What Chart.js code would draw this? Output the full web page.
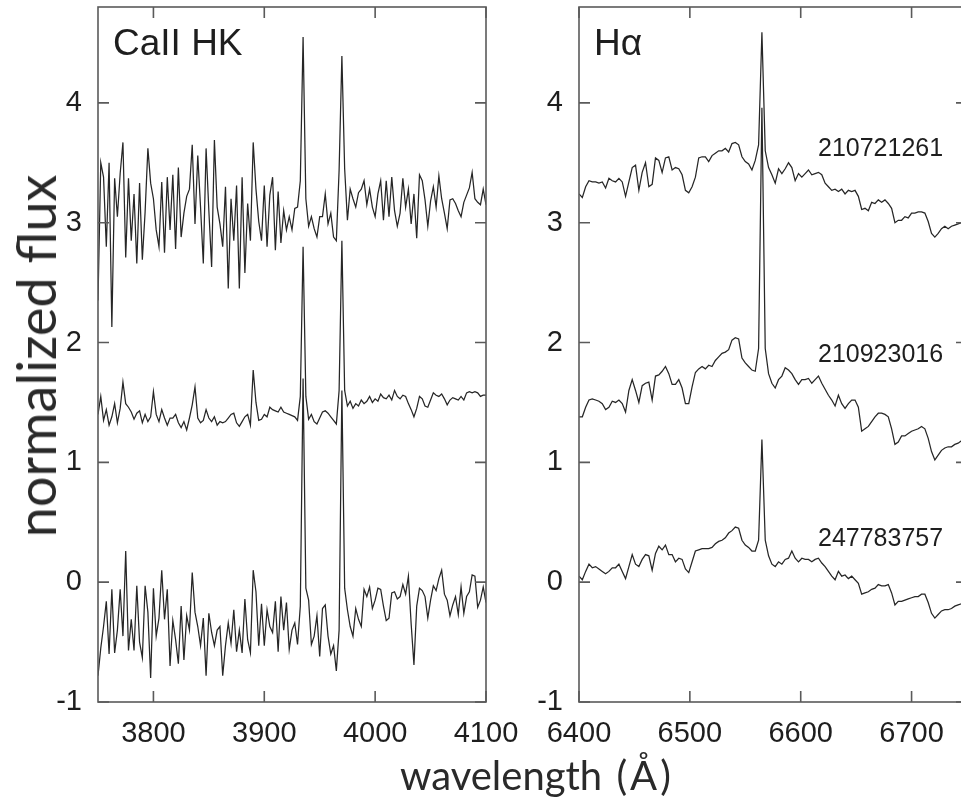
<!DOCTYPE html>
<html>
<head>
<meta charset="utf-8">
<script src="https://cdn.jsdelivr.net/npm/chart.js@4.4.1/dist/chart.umd.min.js"></script>
<style>
  html, body { margin:0; padding:0; background:#fff; }
  body { width:961px; height:804px; overflow:hidden; position:relative; }
  canvas { position:absolute; top:0; }
  .t { position:absolute; white-space:nowrap; color:#1e1e1e; line-height:1; }
  .sans { font-family:"Liberation Sans", Arial, sans-serif; }
</style>
</head>
<body>
<canvas id="c1" width="521" height="804" style="left:0px"></canvas>
<canvas id="c2" width="460" height="804" style="left:520px"></canvas>
<div class="t sans" style="left:113px;top:24px;font-size:37px;">CaII HK</div>
<div class="t sans" style="left:594px;top:24px;font-size:37px;">Hα</div>
<div class="t sans" style="left:818px;top:135px;font-size:25px;">210721261</div>
<div class="t sans" style="left:818px;top:341px;font-size:25px;">210923016</div>
<div class="t sans" style="left:818px;top:525px;font-size:25px;">247783757</div>
<div class="t" style="left:36px;top:356px;font-size:54px;font-family:Lato,'Noto Sans',sans-serif;transform:translate(-50%,-50%) rotate(-90deg);color:#2a2a2a;">normalized flux</div>
<div class="t" style="left:400px;top:755px;font-size:40px;font-family:Lato,'Noto Sans',sans-serif;color:#2a2a2a;word-spacing:4px;">wavelength <span style="letter-spacing:3px;">(Å)</span></div>
<script>
// ---- wavelength grids (Å) ----
const caWave = [
3750,3752.5,3755,3757.5,3760,3762.5,3765,3767.5,3770,3772.5,
3775,3777.5,3780,3782.5,3785,3787.5,3790,3792.5,3795,3797.5,
3800,3802.5,3805,3807.5,3810,3812.5,3815,3817.5,3820,3822.5,
3825,3827.5,3830,3832.5,3835,3837.5,3840,3842.5,3845,3847.5,
3850,3852.5,3855,3857.5,3860,3862.5,3865,3867.5,3870,3872.5,
3875,3877.5,3880,3882.5,3885,3887.5,3890,3892.5,3895,3897.5,
3900,3902.5,3905,3907.5,3910,3912.5,3915,3917.5,3920,3922.5,
3925,3927.5,3930,3932.5,3935,3937.5,3940,3942.5,3945,3947.5,
3950,3952.5,3955,3957.5,3960,3962.5,3965,3967.5,3970,3972.5,
3975,3977.5,3980,3982.5,3985,3987.5,3990,3992.5,3995,3997.5,
4000,4002.5,4005,4007.5,4010,4012.5,4015,4017.5,4020,4022.5,
4025,4027.5,4030,4032.5,4035,4037.5,4040,4042.5,4045,4047.5,
4050,4052.5,4055,4057.5,4060,4062.5,4065,4067.5,4070,4072.5,
4075,4077.5,4080,4082.5,4085,4087.5,4090,4092.5,4095,4097.5,
4100];
const haWave = [
6400,6403,6406,6409,6412,6415,6418,6421,6424,6427,
6430,6433,6436,6439,6442,6445,6448,6451,6454,6457,
6460,6463,6466,6469,6472,6475,6478,6481,6484,6487,
6490,6493,6496,6499,6502,6505,6508,6511,6514,6517,
6520,6523,6526,6529,6532,6535,6538,6541,6544,6547,
6550,6553,6556,6559,6562,6565,6568,6571,6574,6577,
6580,6583,6586,6589,6592,6595,6598,6601,6604,6607,
6610,6613,6616,6619,6622,6625,6628,6631,6634,6637,
6640,6643,6646,6649,6652,6655,6658,6661,6664,6667,
6670,6673,6676,6679,6682,6685,6688,6691,6694,6697,
6700,6703,6706,6709,6712,6715,6718,6721,6724,6727,
6730,6733,6736,6739,6742,6745];

// ---- CaII HK normalized flux (offset spectra) ----
const caTop = [
2.35,3.50,3.38,2.80,3.50,2.13,3.37,3.05,3.41,3.67,
2.71,3.37,2.85,3.24,2.66,3.33,2.69,3.09,3.62,3.33,
3.20,2.94,2.80,3.34,2.75,3.38,2.94,3.40,2.78,3.46,
2.88,3.08,3.22,3.28,3.65,2.99,3.56,3.13,2.66,3.62,
3.10,2.63,3.69,3.13,2.99,2.80,3.30,2.45,3.20,2.85,
3.31,2.45,3.38,2.58,3.16,2.85,3.67,3.28,3.01,2.85,
3.31,2.80,3.23,3.38,2.77,3.26,2.83,3.10,2.94,3.05,
2.94,3.12,3.13,3.35,4.55,3.20,2.97,3.05,2.95,2.88,
3.05,3.05,3.24,2.99,3.08,2.88,2.85,3.44,4.39,3.45,
3.02,3.28,3.20,3.13,3.25,3.28,3.35,3.15,3.28,3.13,
3.05,3.24,3.35,3.02,3.35,3.05,3.38,3.10,2.97,3.08,
3.37,3.13,3.28,2.99,3.24,2.87,3.40,3.35,3.19,2.97,
3.18,3.30,3.13,3.39,3.20,3.08,2.95,3.19,3.20,3.16,
3.10,3.05,3.17,3.23,3.29,3.42,3.20,3.17,3.15,3.28,
3.15];
const caMid = [
1.40,1.55,1.35,1.44,1.31,1.38,1.49,1.33,1.45,1.67,
1.49,1.46,1.42,1.36,1.41,1.43,1.33,1.40,1.34,1.38,
1.59,1.40,1.34,1.44,1.37,1.31,1.37,1.37,1.40,1.33,
1.29,1.34,1.27,1.37,1.48,1.63,1.37,1.33,1.35,1.44,
1.37,1.34,1.38,1.31,1.34,1.33,1.34,1.37,1.40,1.41,
1.33,1.30,1.34,1.38,1.40,1.31,1.77,1.50,1.35,1.36,
1.40,1.38,1.46,1.44,1.43,1.42,1.46,1.42,1.41,1.40,
1.39,1.38,1.35,1.55,2.80,1.55,1.36,1.40,1.34,1.32,
1.37,1.42,1.43,1.41,1.38,1.35,1.32,1.60,2.85,1.60,
1.47,1.51,1.45,1.49,1.47,1.52,1.49,1.51,1.55,1.50,
1.53,1.51,1.57,1.54,1.53,1.56,1.52,1.60,1.55,1.53,
1.56,1.55,1.49,1.44,1.38,1.45,1.55,1.53,1.47,1.46,
1.52,1.58,1.56,1.55,1.57,1.53,1.48,1.52,1.54,1.53,
1.52,1.55,1.52,1.58,1.59,1.58,1.59,1.58,1.55,1.56,
1.56];
const caBot = [
-0.78,-0.55,-0.37,-0.16,-0.60,-0.06,-0.59,-0.40,-0.06,-0.45,
0.26,-0.57,-0.31,-0.57,-0.03,-0.50,-0.63,-0.03,-0.25,-0.80,
-0.05,-0.45,-0.30,0.10,-0.31,-0.06,-0.70,-0.32,-0.48,-0.68,
-0.20,-0.65,-0.28,-0.40,0.08,-0.25,-0.37,-0.53,-0.30,-0.78,
-0.26,-0.42,-0.53,-0.40,-0.37,-0.78,-0.53,-0.34,-0.51,-0.23,
-0.58,-0.40,-0.59,-0.14,-0.48,-0.59,0.10,-0.08,-0.53,-0.18,
-0.53,-0.23,-0.37,-0.42,-0.16,-0.58,-0.12,-0.40,-0.17,-0.56,
-0.40,-0.34,-0.52,-0.20,1.70,-0.05,-0.15,-0.52,-0.45,-0.28,
-0.62,-0.22,-0.19,-0.45,-0.60,-0.53,-0.74,-0.40,1.60,-0.05,
-0.23,-0.37,-0.45,-0.22,-0.31,-0.37,-0.06,-0.12,-0.04,-0.22,
-0.15,-0.05,-0.06,-0.20,-0.32,-0.30,-0.09,-0.08,-0.14,-0.12,
-0.02,-0.10,0.05,-0.35,-0.69,-0.20,-0.05,-0.07,-0.12,-0.30,
-0.15,-0.03,-0.07,0.03,0.10,-0.10,-0.15,-0.28,-0.19,-0.12,
-0.27,-0.04,-0.26,-0.12,-0.08,0.06,0.05,-0.21,-0.15,-0.04,
-0.17];

// ---- H-alpha normalized flux (offset spectra) ----
const haTop = [
3.24,3.21,3.30,3.35,3.34,3.34,3.33,3.34,3.29,3.37,
3.35,3.34,3.37,3.34,3.22,3.34,3.46,3.48,3.27,3.42,
3.50,3.30,3.32,3.54,3.52,3.42,3.54,3.55,3.44,3.46,
3.45,3.40,3.27,3.25,3.30,3.38,3.54,3.55,3.55,3.51,
3.56,3.58,3.60,3.60,3.62,3.59,3.66,3.67,3.65,3.55,
3.51,3.49,3.44,3.52,3.65,4.59,3.60,3.46,3.40,3.33,
3.45,3.41,3.45,3.50,3.46,3.35,3.41,3.38,3.41,3.44,
3.40,3.41,3.42,3.40,3.33,3.30,3.27,3.28,3.26,3.28,
3.24,3.27,3.26,3.27,3.22,3.11,3.12,3.10,3.17,3.16,
3.19,3.17,3.19,3.16,3.12,3.00,3.02,3.02,3.05,3.04,
3.08,3.08,3.09,3.09,3.08,3.01,2.91,2.88,2.91,2.95,
2.97,2.95,2.97,2.98,2.99,3.00];
const haMid = [
1.38,1.38,1.46,1.52,1.53,1.52,1.51,1.49,1.44,1.46,
1.51,1.50,1.52,1.49,1.42,1.60,1.69,1.60,1.50,1.64,
1.66,1.67,1.52,1.72,1.73,1.76,1.80,1.74,1.65,1.65,
1.69,1.62,1.49,1.49,1.63,1.75,1.78,1.80,1.78,1.81,
1.80,1.85,1.88,1.91,1.92,1.94,2.02,2.04,2.03,1.87,
1.83,1.80,1.77,1.76,1.95,3.96,1.95,1.74,1.66,1.62,
1.69,1.72,1.79,1.77,1.74,1.69,1.65,1.69,1.69,1.70,
1.66,1.69,1.72,1.66,1.61,1.56,1.52,1.47,1.56,1.49,
1.45,1.49,1.52,1.52,1.46,1.26,1.28,1.30,1.34,1.38,
1.41,1.41,1.40,1.38,1.28,1.15,1.17,1.22,1.22,1.24,
1.26,1.27,1.28,1.30,1.28,1.20,1.09,1.02,1.06,1.10,
1.12,1.13,1.13,1.15,1.16,1.18];
const haBot = [
0.05,0.02,0.09,0.15,0.12,0.13,0.11,0.09,0.07,0.09,
0.12,0.12,0.15,0.09,0.03,0.13,0.23,0.15,0.13,0.19,
0.23,0.22,0.10,0.24,0.30,0.27,0.31,0.23,0.23,0.17,
0.20,0.19,0.11,0.08,0.17,0.26,0.27,0.28,0.28,0.28,
0.29,0.32,0.34,0.35,0.37,0.41,0.43,0.46,0.45,0.35,
0.31,0.29,0.26,0.26,0.35,1.19,0.35,0.22,0.15,0.13,
0.17,0.15,0.19,0.20,0.26,0.20,0.17,0.20,0.19,0.19,
0.17,0.19,0.20,0.16,0.13,0.09,0.05,0.02,0.09,0.05,
0.06,0.03,0.05,0.02,-0.01,-0.10,-0.09,-0.08,-0.06,-0.05,
-0.02,-0.03,-0.03,-0.02,-0.09,-0.19,-0.16,-0.16,-0.15,-0.14,
-0.13,-0.12,-0.12,-0.10,-0.10,-0.17,-0.26,-0.30,-0.27,-0.24,
-0.23,-0.23,-0.22,-0.20,-0.19,-0.18];

// ---- ticks ----
const yTicks = [-1, 0, 1, 2, 3, 4];
const caTicks = [3800, 3900, 4000, 4100];
const haTicks = [6400, 6500, 6600, 6700];

const LINE = '#262626';
const FRAME = '#5a5a5a';
const TICKFONT = { family: '"Liberation Sans", Arial, sans-serif', size: 29 };

const framePlugin = {
  id: 'frame',
  afterDraw(chart) {
    const { ctx, chartArea: a, scales } = chart;
    ctx.save();
    ctx.strokeStyle = FRAME;
    ctx.lineWidth = 1.6;
    ctx.strokeRect(a.left, a.top, a.right - a.left, a.bottom - a.top);
    const L = 11;
    ctx.beginPath();
    scales.x.ticks.forEach(t => {
      const px = scales.x.getPixelForValue(t.value);
      ctx.moveTo(px, a.bottom); ctx.lineTo(px, a.bottom - L);
      ctx.moveTo(px, a.top); ctx.lineTo(px, a.top + L);
    });
    scales.y.ticks.forEach(t => {
      const py = scales.y.getPixelForValue(t.value);
      ctx.moveTo(a.left, py); ctx.lineTo(a.left + L, py);
      ctx.moveTo(a.right, py); ctx.lineTo(a.right - L, py);
    });
    ctx.stroke();
    ctx.restore();
  }
};

function pairs(xs, ys) { return xs.map((x, i) => ({ x: x, y: ys[i] })); }

function makeChart(id, xs, seriesList, xmin, xmax, xTickList, padRight, yWidth) {
  return new Chart(document.getElementById(id), {
    type: 'line',
    data: {
      datasets: seriesList.map(s => ({
        data: pairs(xs, s),
        borderColor: LINE,
        borderWidth: 1.25,
        pointRadius: 0,
        tension: 0,
        fill: false
      }))
    },
    options: {
      responsive: false,
      animation: false,
      devicePixelRatio: 1,
      layout: { padding: { left: 0, right: padRight, top: 7, bottom: 0 } },
      plugins: { legend: { display: false }, tooltip: { enabled: false } },
      scales: {
        x: {
          type: 'linear', min: xmin, max: xmax,
          afterBuildTicks: s => { s.ticks = xTickList.map(v => ({ value: v })); },
          afterFit: s => { s.height = 102; s.paddingLeft = 0; s.paddingRight = 0; },
          grid: { display: false, drawTicks: false },
          border: { display: false },
          ticks: { padding: 15, font: TICKFONT, color: '#1e1e1e', maxRotation: 0, autoSkip: false,
                   callback: v => String(v) }
        },
        y: {
          type: 'linear', min: -1, max: 4.8,
          afterBuildTicks: s => { s.ticks = yTicks.map(v => ({ value: v })); },
          afterFit: s => { s.width = yWidth; s.paddingTop = 0; s.paddingBottom = 0; },
          grid: { display: false, drawTicks: false },
          border: { display: false },
          ticks: { padding: 16, font: TICKFONT, color: '#1e1e1e', autoSkip: false,
                   callback: v => String(v) }
        }
      }
    },
    plugins: [framePlugin]
  });
}

makeChart('c1', caWave, [caTop, caMid, caBot], 3750, 4100, caTicks, 35, 98);
makeChart('c2', haWave, [haTop, haMid, haBot], 6400, 6750, haTicks, 13, 59);
</script>
</body>
</html>
